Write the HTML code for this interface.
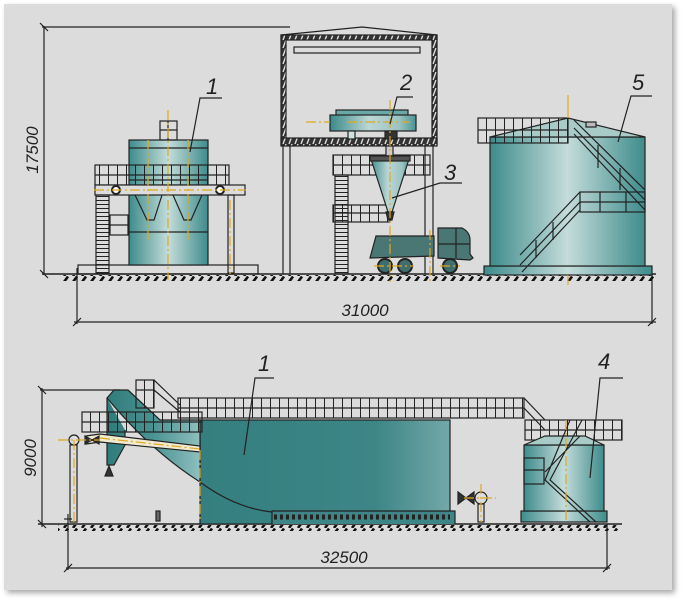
<!DOCTYPE html>
<html><head><meta charset="utf-8"><style>
html,body{margin:0;padding:0;background:#fff;width:686px;height:604px;overflow:hidden}
svg{display:block}
text{font-family:"Liberation Sans",sans-serif;font-style:italic;fill:#222}
</style></head><body>
<svg width="686" height="604" viewBox="0 0 686 604" xmlns="http://www.w3.org/2000/svg">
<defs>
<filter id="sh" x="-5%" y="-5%" width="110%" height="110%"><feDropShadow dx="3" dy="3" stdDeviation="3" flood-color="#000" flood-opacity="0.35"/></filter>
<linearGradient id="tk" x1="0" x2="1" y1="0" y2="0">
<stop offset="0" stop-color="#3e8c8c"/><stop offset="0.5" stop-color="#c4dcda"/><stop offset="1" stop-color="#3e8c8c"/></linearGradient>
<linearGradient id="tk2" x1="0" x2="1"><stop offset="0" stop-color="#3a8a8a"/><stop offset="0.45" stop-color="#bcd6d4"/><stop offset="0.8" stop-color="#9cc4c2"/><stop offset="1" stop-color="#4a9494"/></linearGradient>
<linearGradient id="big" x1="0" x2="1"><stop offset="0" stop-color="#357f80"/><stop offset="0.7" stop-color="#3d8586"/><stop offset="1" stop-color="#73a8a8"/></linearGradient>
<linearGradient id="bin" gradientUnits="userSpaceOnUse" x1="105" x2="200" y1="0" y2="0"><stop offset="0" stop-color="#2f7a7a"/><stop offset="0.5" stop-color="#4a9292"/><stop offset="1" stop-color="#8fbebe"/></linearGradient>
<pattern id="gh" width="9" height="6" patternUnits="userSpaceOnUse"><line x1="1" y1="6" x2="5" y2="0.5" stroke="#111" stroke-width="2.6"/></pattern>
<pattern id="rv" width="9" height="40" patternUnits="userSpaceOnUse"><line x1="0.5" y1="0" x2="0.5" y2="40" stroke="#222" stroke-width="1"/></pattern>
<pattern id="fh" width="6" height="8" patternUnits="userSpaceOnUse"><rect width="6" height="8" fill="#333"/><line x1="1" y1="8" x2="4" y2="0" stroke="#ddd" stroke-width="1.4"/></pattern>
<pattern id="ld" width="20" height="4" patternUnits="userSpaceOnUse"><line x1="0" y1="0.5" x2="20" y2="0.5" stroke="#222" stroke-width="1"/></pattern>
</defs>
<rect x="4" y="4" width="668" height="586" fill="#dcdcdc" filter="url(#sh)"/>

<g stroke="#222" fill="none" stroke-width="1.2">
<line x1="42" y1="27" x2="290" y2="27"/>
<line x1="44" y1="26" x2="44" y2="275"/>
<line x1="40" y1="23" x2="48" y2="31"/><line x1="40" y1="270" x2="48" y2="278"/>
<line x1="42" y1="274" x2="656" y2="274" stroke-width="1.6"/>
<line x1="77" y1="268" x2="77" y2="324"/>
<line x1="652" y1="274" x2="652" y2="324"/>
<line x1="74" y1="322" x2="656" y2="322"/>
<line x1="73" y1="326" x2="81" y2="318"/><line x1="648" y1="326" x2="656" y2="318"/>
</g>
<rect x="62" y="275" width="592" height="6" fill="url(#gh)"/>
<text x="365" y="316" font-size="17" text-anchor="middle">31000</text>
<text x="0" y="0" font-size="17" text-anchor="middle" transform="translate(38,150) rotate(-90)">17500</text>

<g stroke="#222" stroke-width="1.2">
<rect x="78" y="265" width="180" height="9" fill="none"/>
<rect x="129" y="140" width="79" height="125" fill="url(#tk)"/>
<line x1="129" y1="148" x2="208" y2="148" fill="none"/>
<line x1="129" y1="180" x2="208" y2="180" fill="none"/>
<line x1="129" y1="232" x2="208" y2="232" fill="none"/>
<rect x="160" y="121" width="17" height="19" fill="none"/>
<line x1="160" y1="130" x2="177" y2="130"/><line x1="168" y1="121" x2="168" y2="140"/>
<path d="M135 195 L147 220 L154 220 L162 195 M173 195 L184 220 L191 220 L202 195" fill="none"/>
<rect x="95" y="165" width="134" height="20" fill="url(#rv)"/>
<line x1="95" y1="175" x2="229" y2="175"/>
<rect x="95" y="185" width="150" height="10" fill="#dcdcdc"/>
<circle cx="116" cy="190" r="4" fill="#fff" stroke-width="2"/>
<circle cx="220" cy="190" r="4" fill="#fff" stroke-width="2"/>
<rect x="96" y="195" width="13" height="78" fill="url(#ld)"/>
<rect x="110" y="215" width="18" height="20" fill="none"/>
<line x1="110" y1="225" x2="128" y2="225"/>
<rect x="228" y="195" width="6" height="78" fill="none"/>
</g>
<g stroke="#e0a820" stroke-width="1.2" stroke-dasharray="10 3 2 3">
<line x1="168" y1="110" x2="168" y2="280"/><line x1="148" y1="140" x2="148" y2="240"/><line x1="188" y1="140" x2="188" y2="240"/>
<line x1="94" y1="190" x2="246" y2="190"/><line x1="230" y1="200" x2="230" y2="274"/>
</g>
<g stroke="#222" stroke-width="1.2" fill="none"><path d="M190 152 L200 98 L222 98"/></g>
<text x="206" y="94" font-size="22">1</text>

<g stroke="#222" stroke-width="1.2" fill="none">
<path d="M281 35 L362 27 L437 35"/>
<rect x="281" y="35" width="156" height="5" fill="url(#fh)"/>
<rect x="281" y="35" width="5" height="110" fill="url(#fh)"/>
<rect x="432" y="35" width="5" height="110" fill="url(#fh)"/>
<rect x="281" y="138" width="156" height="8" fill="url(#fh)"/>
<rect x="294" y="47" width="126" height="6"/>
<line x1="283" y1="146" x2="283" y2="274"/><line x1="290" y1="146" x2="290" y2="274"/>
<line x1="425" y1="146" x2="425" y2="274"/><line x1="433" y1="146" x2="433" y2="274"/>
<rect x="333" y="155" width="97" height="20" fill="url(#rv)"/><line x1="333" y1="165" x2="430" y2="165"/>
<rect x="333" y="205" width="57" height="17" fill="url(#rv)"/><line x1="333" y1="213" x2="390" y2="213"/>
<rect x="335" y="175" width="13" height="99" fill="url(#ld)"/>
</g>
<g stroke="#222" stroke-width="1.2">
<rect x="336" y="110" width="72" height="6" fill="#6aa8a8"/>
<rect x="330" y="115" width="86" height="16" fill="url(#tk2)"/>
<rect x="348" y="131" width="7" height="8" fill="#cfe2e0"/>
<rect x="385" y="131" width="12" height="8" fill="#333"/>
<rect x="386" y="146" width="7" height="10" fill="#ccc"/>
<path d="M370 156 L410 156 L392 212 L388 212 Z" fill="url(#tk2)"/>
<rect x="370" y="156" width="40" height="5" fill="#555"/>
<path d="M386 212 L394 212 L392 220 L388 220 Z" fill="#333"/>
<path d="M376 236 L434 236 L434 256 L370 258 Z" fill="#4a7674"/>
<path d="M438 228 L462 228 Q470 232 470 240 L470 254 L473 258 L470 260 L438 258 Z" fill="#4a7674"/>
<line x1="438" y1="244" x2="470" y2="244"/><line x1="456" y1="228" x2="456" y2="258"/>
<circle cx="385" cy="266" r="7" fill="#3f6e6c" stroke-width="2"/>
<circle cx="405" cy="266" r="7" fill="#3f6e6c" stroke-width="2"/>
<circle cx="450" cy="266" r="7" fill="#3f6e6c" stroke-width="2"/>
</g>
<g stroke="#e0a820" stroke-width="1.2" stroke-dasharray="10 3 2 3" fill="none">
<line x1="306" y1="122" x2="330" y2="122"/><line x1="347" y1="122" x2="410" y2="122"/>
<line x1="390" y1="100" x2="390" y2="282"/><line x1="430" y1="230" x2="430" y2="282"/>
<line x1="374" y1="266" x2="414" y2="266"/><line x1="440" y1="266" x2="460" y2="266"/>
</g>
<g stroke="#222" stroke-width="1.2" fill="none">
<path d="M390 124 L397 97 L413 97"/><path d="M392 198 L440 183 L462 183"/>
</g>
<text x="400" y="90" font-size="22">2</text>
<text x="444" y="180" font-size="22">3</text>

<g stroke="#222" stroke-width="1.2">
<rect x="484" y="266" width="168" height="9" fill="url(#tk)"/>
<rect x="490" y="137" width="155" height="129" fill="url(#tk)"/>
<path d="M490 137 L568 118 L645 137 Z" fill="#a9cbc8"/>
<rect x="586" y="122" width="10" height="5" fill="#bbb"/>
<rect x="478" y="118" width="90" height="25" fill="url(#rv)" stroke="none"/>
<rect x="478" y="118" width="90" height="25" fill="none"/>
<line x1="478" y1="130" x2="568" y2="130"/>
<path d="M574 120 L645 190 M574 128 L645 200 M574 134 L645 210" fill="none"/>
<line x1="598" y1="145" x2="598" y2="168"/><line x1="620" y1="168" x2="620" y2="190"/>
<rect x="580" y="192" width="65" height="20" fill="none"/>
<line x1="580" y1="202" x2="645" y2="202"/><line x1="600" y1="192" x2="600" y2="212"/><line x1="626" y1="192" x2="626" y2="212"/>
<path d="M580 192 L520 255 M580 202 L520 265 M580 210 L522 272" fill="none"/>
<line x1="536" y1="240" x2="536" y2="258"/><line x1="553" y1="222" x2="553" y2="240"/>
</g>
<line x1="568" y1="95" x2="568" y2="118" stroke="#e0a820" stroke-width="1.2"/>
<line x1="568" y1="275" x2="568" y2="285" stroke="#e0a820" stroke-width="1.2"/>
<path d="M618 142 L631 96 L652 96" stroke="#222" stroke-width="1.2" fill="none"/>
<text x="632" y="90" font-size="22">5</text>

<!-- ===== BOTTOM ===== -->
<g stroke="#222" stroke-width="1.2" fill="none">
<line x1="40" y1="390" x2="120" y2="390"/>
<line x1="42" y1="388" x2="42" y2="527"/>
<line x1="38" y1="386" x2="46" y2="394"/><line x1="38" y1="520" x2="46" y2="528"/>
<line x1="38" y1="524" x2="622" y2="524" stroke-width="1.6"/>
<line x1="68" y1="514" x2="68" y2="570"/><line x1="64" y1="519" x2="72" y2="519"/>
<line x1="607" y1="524" x2="607" y2="570"/>
<line x1="66" y1="568" x2="610" y2="568"/>
<line x1="64" y1="572" x2="72" y2="564"/><line x1="603" y1="572" x2="611" y2="564"/>
</g>
<rect x="58" y="525" width="560" height="6" fill="url(#gh)"/>
<text x="344" y="563" font-size="17" text-anchor="middle">32500</text>
<text x="0" y="0" font-size="17" text-anchor="middle" transform="translate(36,458) rotate(-90)">9000</text>

<g stroke="#222" stroke-width="1.2">
<!-- big tank -->
<rect x="200" y="420" width="250" height="104" fill="url(#big)"/>
<!-- diagonal chute + bin -->
<path d="M107 398 L114 390 L128 390 L160 420 L200 420 L200 482 Q150 450 107 398 Z" fill="url(#bin)"/>
<path d="M200 482 Q235 508 272 512" fill="none"/>
<path d="M107 398 L107 465 L114 465 L125 445 L125 430" fill="url(#bin)"/>
<path d="M105 476 L109 466 L113 476 Z" fill="#333"/>
<!-- base of tank -->
<path d="M272 524 L272 511 L455 511 L455 524" fill="#3d8586"/>
<path d="M274 517 L450 517" stroke-dasharray="3 3" stroke-width="5" fill="none"/>
<!-- walkway -->
<rect x="136" y="380" width="18" height="28" fill="url(#rv)"/>
<line x1="136" y1="390" x2="154" y2="390"/>
<path d="M154 380 L180 405 M154 390 L180 412" fill="none"/>
<rect x="178" y="398" width="346" height="20" fill="url(#rv)" stroke="none"/>
<rect x="178" y="398" width="346" height="20" fill="none"/>
<line x1="178" y1="408" x2="524" y2="408"/>
<rect x="82" y="412" width="120" height="20" fill="url(#rv)" stroke="none"/>
<rect x="82" y="412" width="120" height="20" fill="none"/>
<line x1="82" y1="422" x2="202" y2="422"/>
<path d="M524 398 L545 420 M524 408 L545 430" fill="none"/>
<rect x="525" y="420" width="97" height="20" fill="url(#rv)" stroke="none"/>
<rect x="525" y="420" width="97" height="20" fill="none"/>
<line x1="525" y1="430" x2="622" y2="430"/>
<!-- pipe conveyor -->
<path d="M86 436 L100 434 L200 446 L200 452 L100 442 L86 444 Z" fill="#f0ead0"/>
<circle cx="74" cy="440" r="5" fill="#ddd"/>
<rect x="70" y="445" width="7" height="77" fill="none"/>
<path d="M85 436 L85 444 L92 440 Z M92 440 L99 436 L99 444 Z" fill="#333"/>
<rect x="156" y="511" width="4" height="10" fill="#666"/>
<!-- pump -->
<path d="M458 492 L458 504 L466 498 Z M466 498 L474 492 L474 504 Z" fill="#333"/>
<circle cx="481" cy="498" r="6" fill="#ddd"/>
<rect x="478" y="504" width="6" height="18" fill="none"/>
<!-- tank 4 -->
<rect x="521" y="511" width="86" height="11" fill="url(#tk)"/>
<rect x="524" y="445" width="80" height="66" fill="url(#tk)"/>
<path d="M524 445 L545 436 L585 436 L604 445 Z" fill="#a9cbc8"/>
<rect x="524" y="458" width="20" height="26" fill="none"/>
<line x1="524" y1="470" x2="544" y2="470"/>
<path d="M570 420 L545 480 L590 522 M582 420 L550 480 L596 522 M580 436 L545 472" fill="none"/>
</g>
<g stroke="#e0a820" stroke-width="1.2" stroke-dasharray="10 3 2 3" fill="none">
<line x1="58" y1="440" x2="100" y2="440"/><line x1="74" y1="440" x2="74" y2="522"/>
<line x1="100" y1="438" x2="200" y2="449"/><line x1="200" y1="450" x2="200" y2="520"/>
<line x1="464" y1="498" x2="496" y2="498"/><line x1="481" y1="484" x2="481" y2="522"/>
<line x1="566" y1="420" x2="566" y2="522"/>
</g>
<g stroke="#222" stroke-width="1.2" fill="none">
<path d="M244 455 L255 378 L274 378"/>
<path d="M590 478 L600 378 L623 378"/>
</g>
<text x="258" y="371" font-size="22">1</text>
<text x="598" y="369" font-size="22">4</text>
</svg>
</body></html>
